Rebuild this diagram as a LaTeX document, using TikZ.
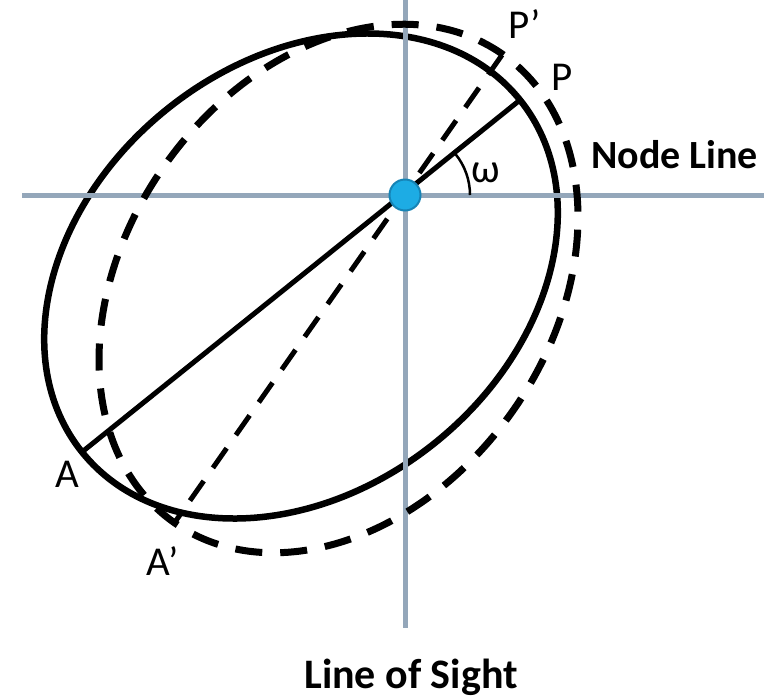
\documentclass[tikz,border=0pt]{standalone}
\usepackage{fontspec}
\setmainfont{Carlito}
\definecolor{axisgray}{RGB}{148,167,186}
\definecolor{dotfill}{RGB}{29,172,228}
\definecolor{dotedge}{RGB}{22,132,182}
\tikzset{
  axisline/.style={draw=axisgray, line width=5pt},
  orbit/.style={draw=black, line width=6.5pt},
  orbitdash/.style={draw=black, line width=7pt, dash pattern=on 27pt off 18pt},
  apsis/.style={draw=black, line width=5pt},
  apsisdash/.style={draw=black, line width=5pt, dash pattern=on 24pt off 16pt},
  lbl/.style={font=\fontsize{41}{45}\selectfont, inner sep=0pt, anchor=base west},
  blbl/.style={font=\fontsize{42}{46}\selectfont\bfseries, inner sep=0pt}
}
\begin{document}
\begin{tikzpicture}[x=1pt,y=1pt]
\useasboundingbox (0,0) rectangle (764,-697);
\coordinate (O) at (405,-195);
\coordinate (L) at (22,-195);
\coordinate (R) at (770,-195);
\coordinate (T) at (405,5);
\coordinate (B) at (405,-628);
\coordinate (P) at (520,-100);
\coordinate (A) at (82,-452);
\coordinate (Pp) at (502,-55);
\coordinate (Ap) at (175,-522);
% solid orbit
\draw[orbit, rotate around={38.8:(301,-276)}] (301,-276) ellipse [x radius=281, y radius=214];
% axes
\draw[axisline] (L) -- (R);
\draw[axisline] (T) -- (B);
% dashed orbit
\draw[orbitdash, rotate around={55:(338.5,-288.5)}] (338.5,-288.5) ellipse [x radius=286, y radius=213];
% apsis lines
\draw[apsis] (A) -- (P);
\draw[apsisdash] (Pp) -- (Ap);
% omega arc
\draw[line width=2.5pt] (470,-195) arc [start angle=0, end angle=38.8, radius=65];
% dot
\node[circle, fill=dotfill, draw=dotedge, line width=2pt, minimum size=31pt, inner sep=0pt] (dot) at (O) {};
% labels
\node[lbl] (lP) at (551,-90) {P};
\node[lbl] (lPp) at (508,-38) {P’};
\node[lbl] (lA) at (55,-487) {A};
\node[lbl] (lAp) at (146,-575) {A’};
\node[lbl] (lw) at (471,-182) {ω};
\node[blbl, font=\fontsize{40}{44}\selectfont\bfseries, anchor=base west] (nl) at (591,-168) {Node Line};
\node[blbl, anchor=base] (los) at (411,-688) {Line of Sight};
\end{tikzpicture}
\end{document}
